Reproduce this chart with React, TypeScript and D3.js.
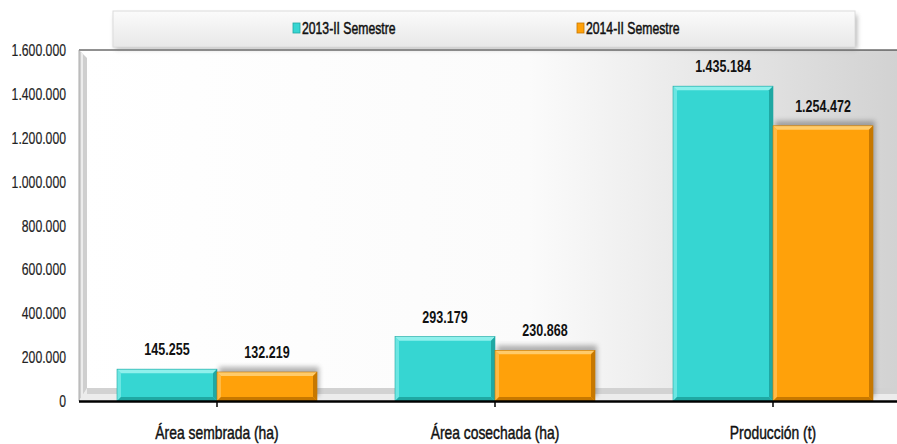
import React from "react";
import * as d3 from "d3";

const categories = ["Área sembrada (ha)", "Área cosechada (ha)", "Producción (t)"];
const series2013 = [145255, 293179, 1435184];
const series2014 = [132219, 230868, 1254472];
const seriesNames = ["2013-II Semestre", "2014-II Semestre"];
const yTicks = [0, 200000, 400000, 600000, 800000, 1000000, 1200000, 1400000, 1600000];

const W = 897, H = 444;
const x0 = 78, x1 = 912, yTop = 50, yBot = 401;
const colors = ["#36D6D2", "#FFA10A"];
const darks = ["#1FA8A3", "#C77800"];
const lights = ["#8FF0EC", "#FFCB6A"];

const fmt = d3.formatLocale({ decimal: ",", thousands: ".", grouping: [3], currency: ["", ""] }).format(",d");
const FONT = "'Liberation Sans', Arial, sans-serif";

function T(props: { x: number; y: number; sx: number; size: number; anchor?: string; bold?: boolean; fill?: string; weight?: number; children: React.ReactNode }) {
  const { x, y, sx, size, anchor = "middle", bold = false, fill = "#111", weight = 0, children } = props;
  return (
    <text transform={`translate(${x},${y}) scale(${sx},1)`} textAnchor={anchor as any}
      fontFamily={FONT} fontSize={size} fontWeight={bold ? "bold" : "normal"} fill={fill}
      stroke={weight > 0 ? fill : "none"} strokeWidth={weight}>{children}</text>
  );
}

export default function App() {
  const x = d3.scaleBand().domain(categories).range([x0, x1]).paddingInner(0).paddingOuter(0);
  const y = d3.scaleLinear().domain([0, 1600000]).range([yBot, yTop]);
  const barW = 100;
  const data = [series2013, series2014];

  const bevel = (bx: number, by: number, bw: number, bh: number, i: number, key: string) => {
    const b = Math.min(4, bh / 2);
    return (
      <g key={key}>
        <rect x={bx} y={by} width={bw} height={bh} fill={colors[i]} />
        <polygon points={`${bx},${by} ${bx + bw},${by} ${bx + bw - b},${by + b} ${bx + b},${by + b}`} fill={lights[i]} />
        <polygon points={`${bx},${by} ${bx + b},${by + b} ${bx + b},${by + bh - b} ${bx},${by + bh}`} fill={lights[i]} opacity={0.6} />
        <polygon points={`${bx + bw},${by} ${bx + bw},${by + bh} ${bx + bw - b},${by + bh - b} ${bx + bw - b},${by + b}`} fill={darks[i]} />
        <polygon points={`${bx},${by + bh} ${bx + bw},${by + bh} ${bx + bw - b},${by + bh - b} ${bx + b},${by + bh - b}`} fill={darks[i]} />
        <rect x={bx} y={by} width={bw} height={bh} fill="none" stroke={darks[i]} strokeWidth={0.6} />
      </g>
    );
  };

  return (
    <svg width={W} height={H} style={{ position: "absolute", left: 0, top: 0, background: "#fff" }}>
      <defs>
        <linearGradient id="bg" x1="0" x2="1" y1="0" y2="0">
          <stop offset="0" stopColor="#ffffff" />
          <stop offset="0.55" stopColor="#fbfbfb" />
          <stop offset="1" stopColor="#d2d2d2" />
        </linearGradient>
        <linearGradient id="leg" x1="0" x2="0" y1="0" y2="1">
          <stop offset="0" stopColor="#fbfbfb" />
          <stop offset="1" stopColor="#e8e8e8" />
        </linearGradient>
        <filter id="sh" x="-20%" y="-20%" width="140%" height="140%">
          <feGaussianBlur stdDeviation="2.5" />
        </filter>
      </defs>
      {/* plot area background */}
      <rect x={79} y={yTop} width={W - 79} height={yBot - yTop} fill="url(#bg)" />
      {/* left bevel wall */}
      <polygon points={`79,${yTop} 87,${yTop + 8} 87,${yBot - 12} 79,${yBot}`} fill="#cfcfcf" />
      <line x1={82} x2={82} y1={yTop + 3} y2={yBot - 3} stroke="#ececec" strokeWidth={2} />
      {/* floor bevel */}
      <polygon points={`79,${yBot} 87,${yBot - 13} ${W},${yBot - 13} ${W},${yBot}`} fill="#ececec" />
      <rect x={87} y={yBot - 13} width={W - 87} height={6} fill="#d2d2d2" />
      <line x1={79} x2={W} y1={yTop} y2={yTop} stroke="#222" strokeWidth={1} />
      <line x1={79} x2={79} y1={yTop} y2={yBot} stroke="#aaa" strokeWidth={1} />

      {/* bar shadows */}
      {categories.map((c, ci) =>
        data.map((s, si) => {
          const cx = (x(c) as number) + x.bandwidth() / 2;
          const bx = cx - barW + si * barW;
          const by = y(s[ci]);
          const bh = yBot - by;
          return si === 1 ? (
            <rect key={`s${ci}`} x={bx + 2} y={by - 5} width={barW} height={bh} fill="#555" opacity={0.45} filter="url(#sh)" />
          ) : null;
        })
      )}
      {/* bars */}
      {categories.map((c, ci) =>
        data.map((s, si) => {
          const cx = (x(c) as number) + x.bandwidth() / 2;
          const bx = cx - barW + si * barW;
          const by = y(s[ci]);
          const bh = yBot - by;
          return bevel(bx, by, barW, bh, si, `b${ci}-${si}`);
        })
      )}
      {/* data labels */}
      {categories.map((c, ci) =>
        data.map((s, si) => {
          const cx = (x(c) as number) + x.bandwidth() / 2;
          const lx = cx - barW / 2 + si * barW;
          return (
            <T key={`l${ci}-${si}`} x={lx} y={y(s[ci]) - 14} sx={0.76} size={16.5} bold>{fmt(s[ci])}</T>
          );
        })
      )}

      {/* x axis */}
      <line x1={79} x2={W} y1={yBot + 0.5} y2={yBot + 0.5} stroke="#000" strokeWidth={2.5} />
      {categories.map((c, ci) => {
        const cx = (x(c) as number) + x.bandwidth() / 2;
        return (
          <g key={`t${ci}`}>
            <line x1={cx} x2={cx} y1={yBot} y2={yBot + 6} stroke="#000" strokeWidth={1.5} />
            <T x={cx} y={439} sx={0.75} size={18.5} weight={0.45}>{c}</T>
          </g>
        );
      })}

      {/* y axis labels */}
      {yTicks.map((t) => (
        <T key={`y${t}`} x={66} y={y(t) + 6} sx={0.72} size={17} anchor="end" fill="#222" weight={0.2}>{fmt(t)}</T>
      ))}

      {/* legend */}
      <rect x={115} y={15} width={742} height={34} fill="#777" opacity={0.55} filter="url(#sh)" />
      <rect x={113} y={11} width={742} height={36} fill="url(#leg)" stroke="#dcdcdc" />
      {seriesNames.map((n, i) => {
        const lx = [293, 577][i];
        return (
          <g key={`lg${i}`}>
            <rect x={lx} y={23} width={7} height={10} fill={colors[i]} stroke={darks[i]} strokeWidth={0.8} />
            <T x={lx + 9} y={34} sx={0.74} size={16.5} anchor="start" weight={0.5}>{n}</T>
          </g>
        );
      })}
    </svg>
  );
}
